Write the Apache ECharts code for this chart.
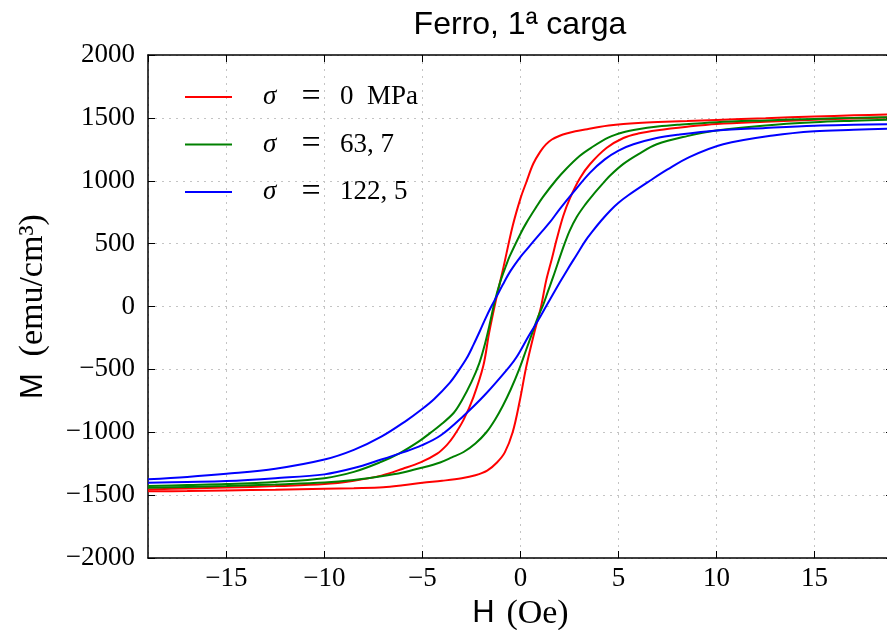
<!DOCTYPE html>
<html><head><meta charset="utf-8">
<script src="https://cdn.jsdelivr.net/npm/echarts@6/dist/echarts.min.js"></script>
<style>html,body{margin:0;padding:0;background:#fff}#c{width:887px;height:630px}</style>
</head><body><div id="c"></div>
<script>
const titleText = 'Ferro, 1ª carga';
const seriesNames = ['σ = 0  MPa', 'σ = 63, 7', 'σ = 122, 5'];
const seriesColors = ['#ff0000', '#008000', '#0000ff'];

// sigma = 0 MPa
const H_red_down = [19, 17, 15, 12.5, 10, 8.5, 7, 6, 5.25, 4.5, 4, 3.4, 2.8, 2.4, 2, 1.6, 1.3, 1, 0.65, 0.3, 0, -0.4, -0.9, -1.25, -1.6, -1.9, -2.4, -2.9, -3.4, -3.75, -4.25, -5.1, -6, -7.1, -8.5, -10, -12.5, -15, -17, -19];
const M_red_down = [1527, 1520, 1511, 1497, 1484, 1475, 1467, 1460, 1452, 1440, 1428, 1410, 1393, 1378, 1358, 1328, 1289, 1230, 1135, 990, 860, 640, 290, 53, -210, -474, -720, -900, -1030, -1100, -1170, -1240, -1290, -1345, -1385, -1412, -1428, -1440, -1447, -1455];
const H_red_up = [-19, -17, -15, -12.5, -10, -8.5, -7, -6, -5, -4, -3, -2.3, -1.7, -1.2, -0.8, -0.4, -0.05, 0.3, 0.7, 1.05, 1.3, 1.6, 1.84, 2.18, 2.52, 3.03, 3.54, 4.4, 5.25, 6, 7, 8.5, 10, 12.5, 15, 17, 19];
const M_red_up = [-1470, -1467, -1463, -1457, -1450, -1445, -1438, -1422, -1402, -1386, -1366, -1342, -1305, -1240, -1160, -1000, -760, -474, -210, 0, 200, 380, 530, 720, 860, 1020, 1131, 1262, 1340, 1375, 1402, 1430, 1452, 1470, 1485, 1495, 1505];

// sigma = 63,7
const H_green_down = [19, 17, 15, 12.5, 10, 8, 7, 6, 5.25, 4.5, 3.6, 3, 2.3, 1.84, 1.14, 0.8, 0.3, 0, -0.55, -0.75, -1.05, -1.32, -1.6, -1.8, -2.1, -2.5, -3, -3.4, -4.1, -4.6, -5.2, -6.2, -7.1, -8.5, -10, -12.5, -15, -17, -19];
const M_green_down = [1507, 1500, 1492, 1480, 1466, 1445, 1431, 1410, 1386, 1345, 1262, 1195, 1090, 1010, 870, 790, 665, 579, 400, 320, 188, 35, -160, -290, -450, -600, -750, -845, -945, -1005, -1075, -1170, -1235, -1315, -1365, -1395, -1412, -1420, -1428];
const H_green_up = [-19, -17, -15, -12.5, -10, -8.5, -7.1, -6, -5.1, -4.1, -3.5, -2.9, -2.3, -1.74, -1.3, -0.9, -0.5, -0.07, 0.3, 0.6, 0.9, 1.15, 1.4, 1.67, 2.18, 2.5, 2.86, 3.3, 3.71, 4.24, 4.56, 5.25, 6, 6.95, 8.5, 10, 12.5, 15, 17, 19];
const M_green_up = [-1442, -1435, -1428, -1415, -1400, -1380, -1350, -1320, -1285, -1240, -1200, -1157, -1090, -1000, -900, -789, -660, -500, -340, -210, -80, 10, 120, 237, 470, 600, 710, 810, 890, 985, 1040, 1134, 1210, 1290, 1355, 1399, 1440, 1465, 1477, 1487];

// sigma = 122,5
const H_blue_down = [19, 17, 15, 12.5, 10, 8, 6.95, 5.76, 5, 4.3, 3.55, 2.7, 2, 1.5, 1, 0.3, 0, -0.5, -0.9, -1.2, -1.49, -1.8, -2.07, -2.4, -2.74, -3.2, -3.6, -4.4, -5.1, -5.8, -7.1, -8.5, -10, -12.5, -15, -17, -19];
const M_blue_down = [1450, 1445, 1438, 1420, 1399, 1365, 1340, 1290, 1240, 1170, 1065, 910, 775, 670, 580, 450, 395, 285, 175, 85, 0, -100, -195, -305, -410, -520, -605, -735, -825, -905, -1035, -1140, -1217, -1290, -1330, -1355, -1374];
const H_blue_up = [-19, -17, -15, -12.5, -10, -8.5, -7.1, -6, -5.05, -4.08, -2.91, -1.8, -0.57, -0.19, 0.43, 0.9, 1.3, 2, 2.4, 2.86, 3.3, 3.71, 4.1, 4.56, 5, 5.5, 6.6, 7.5, 8.64, 10.34, 12.88, 15, 17, 19];
const M_blue_up = [-1402, -1396, -1388, -1365, -1335, -1285, -1217, -1160, -1105, -1026, -870, -700, -480, -400, -230, -110, 0, 190, 295, 410, 520, 605, 680, 760, 825, 885, 1000, 1090, 1190, 1290, 1360, 1394, 1405, 1415];

const branches = [
  [0, H_red_down, M_red_down], [0, H_red_up, M_red_up],
  [1, H_green_down, M_green_down], [1, H_green_up, M_green_up],
  [2, H_blue_down, M_blue_down], [2, H_blue_up, M_blue_up]
];

const fmt = v => String(v).replace('-', '\u2212');
const serif = 'Liberation Serif';
const sans = 'Liberation Sans';

const series = branches.map(([k, H, M]) => ({
  name: seriesNames[k],
  type: 'line',
  data: H.map((h, i) => [h, M[i]]),
  showSymbol: false,
  smooth: 0.35,
  lineStyle: { color: seriesColors[k], width: 2 },
  itemStyle: { color: seriesColors[k] },
  z: 3 + k
}));

const legendRich = {
  sp: { width: 26, lineHeight: 30 },
  i: { fontFamily: serif, fontStyle: 'italic', fontSize: 27, width: 30, lineHeight: 30, color: '#000' },
  e: { fontFamily: serif, fontSize: 34, width: 36, align: 'center', lineHeight: 30, color: '#000' },
  n: { fontFamily: serif, fontSize: 27, lineHeight: 30, padding: [0, 0, 0, 11], color: '#000' }
};

const chart = echarts.init(document.getElementById('c'), null, { renderer: 'canvas' });
const gridLine = { show: true, lineStyle: { color: '#c4c4c4', type: [2, 5], width: 1 } };
chart.setOption({
  animation: false,
  backgroundColor: '#fff',
  title: {
    text: titleText, left: 515, top: 4, textAlign: 'center',
    textStyle: { fontFamily: sans, fontSize: 32, fontWeight: 'normal', color: '#000' }
  },
  legend: {
    data: seriesNames, orient: 'vertical', left: 185, top: 80, padding: 0,
    icon: 'rect', itemWidth: 47, itemHeight: 2, itemGap: 13.5,
    formatter: n => {
      const rest = n.split('=')[1].trim();
      return '{sp|}{i|σ}{e|=}{n|' + rest + '}';
    },
    textStyle: { fontFamily: serif, fontSize: 27, color: '#000', rich: legendRich }
  },
  grid: { left: 148, right: -6, top: 55, bottom: 72, containLabel: false, outerBoundsMode: 'none' },
  xAxis: [{
    type: 'value', min: -19, max: 19, splitNumber: 8, position: 'bottom',
    name: '{a|H}  {b|(Oe)}', nameLocation: 'middle', nameGap: 32,
    nameTextStyle: { rich: {
      a: { fontFamily: sans, fontSize: 31, color: '#000' },
      b: { fontFamily: serif, fontSize: 34, padding: [0, 0, 0, 5], color: '#000' } } },
    axisLine: { show: true, onZero: false, lineStyle: { color: '#000', width: 1.5 } },
    axisTick: { show: true, inside: true, length: 7, lineStyle: { color: '#000', width: 1 } },
    axisLabel: { showMinLabel: false, showMaxLabel: false, formatter: fmt, margin: 7,
      fontFamily: serif, fontSize: 27, color: '#000' },
    splitLine: gridLine
  }, {
    type: 'value', min: -19, max: 19, splitNumber: 8, position: 'top',
    axisLine: { show: true, onZero: false, lineStyle: { color: '#000', width: 1.5 } },
    axisTick: { show: true, inside: true, length: 7, lineStyle: { color: '#000', width: 1 } },
    axisLabel: { show: false }, splitLine: { show: false }
  }],
  yAxis: [{
    type: 'value', min: -2000, max: 2000, interval: 500, position: 'left',
    name: '{a|M}  {b|(emu/cm³)}', nameLocation: 'middle', nameRotate: 90, nameGap: 98,
    nameTextStyle: { rich: {
      a: { fontFamily: sans, fontSize: 31, color: '#000' },
      b: { fontFamily: serif, fontSize: 34, padding: [0, 0, 0, 10], color: '#000' } } },
    axisLine: { show: true, onZero: false, lineStyle: { color: '#000', width: 1.5 } },
    axisTick: { show: true, inside: true, length: 7, lineStyle: { color: '#000', width: 1 } },
    axisLabel: { formatter: fmt, margin: 13, fontFamily: serif, fontSize: 27, color: '#000' },
    splitLine: gridLine
  }, {
    type: 'value', min: -2000, max: 2000, interval: 500, position: 'right',
    axisLine: { show: true, onZero: false, lineStyle: { color: '#000', width: 1.5 } },
    axisTick: { show: true, inside: true, length: 7 },
    axisLabel: { show: false }, splitLine: { show: false }
  }],
  series: series
});
</script></body></html>
